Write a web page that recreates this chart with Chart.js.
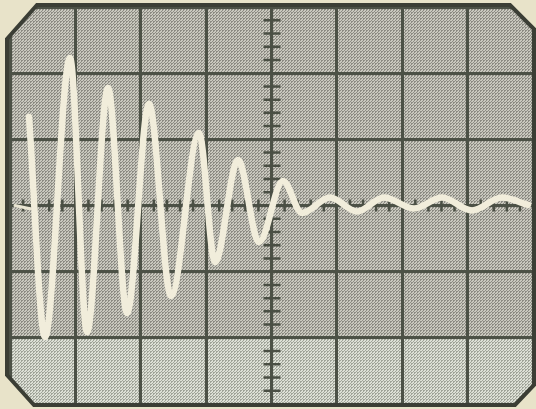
<!DOCTYPE html>
<html>
<head>
<meta charset="utf-8">
<script src="https://cdn.jsdelivr.net/npm/chart.js@4/dist/chart.umd.min.js"></script>
<style>
  html, body { margin: 0; padding: 0; background: #e8e3c9; }
  #c { display: block; }
</style>
</head>
<body>
<canvas id="c" width="536" height="409"></canvas>
<script>
// Trace extrema, in screen divisions (x: 0..8, y: -3..3)
const traceX = [0.291, 0.535, 0.918, 1.178, 1.499, 1.790, 2.126, 2.463, 2.891, 3.136, 3.488, 3.809,
                4.176, 4.467, 4.895, 5.308, 5.721, 6.180, 6.608, 7.067, 7.526, 7.924];
const traceY = [1.337, -1.987, 2.229, -1.912, 1.776, -1.625, 1.534, -1.368, 1.096, -0.854, 0.688, -0.552,
                0.370, -0.113, 0.120, -0.090, 0.120, -0.045, 0.120, -0.075, 0.120, 0.008];
// Short baseline stub before the sweep
const stubX = [0.076, 0.306];
const stubY = [0.0, -0.05];
// Graticule
const xMin = 0, xMax = 8, yMin = -3, yMax = 3;
const minorStep = 0.2;

function makePattern(dark, light) {
  const p = document.createElement('canvas');
  p.width = 3; p.height = 3;
  const g = p.getContext('2d');
  g.fillStyle = light; g.fillRect(0, 0, 3, 3);
  g.fillStyle = dark;
  g.fillRect(0, 0, 1, 1); g.fillRect(1, 0, 1, 1); g.fillRect(0, 1, 1, 1);
  g.fillRect(2, 2, 1, 1);
  return g.createPattern(p, 'repeat');
}

function screenPath(ctx, a) {
  const l = a.left - 3, r = a.right + 1, t = a.top - 2, b = a.bottom + 1;
  ctx.beginPath();
  ctx.moveTo(l + 30, t);
  ctx.lineTo(r - 24, t);
  ctx.lineTo(r, t + 24);
  ctx.lineTo(r, b - 20);
  ctx.lineTo(r - 19, b);
  ctx.lineTo(l + 27, b);
  ctx.lineTo(l, b - 30);
  ctx.lineTo(l, t + 34);
  ctx.closePath();
}

const screenPlugin = {
  id: 'screen',
  beforeDraw(chart) {
    const ctx = chart.ctx, a = chart.chartArea;
    const ys = chart.scales.y;
    ctx.save();
    ctx.fillStyle = '#e8e3c9';
    ctx.fillRect(0, 0, chart.width, chart.height);
    screenPath(ctx, a);
    ctx.fillStyle = makePattern('#8c8b83', '#c9c8be');
    ctx.fill();
    ctx.clip();
    const yb = ys.getPixelForValue(-2);
    ctx.fillStyle = makePattern('#a0a499', '#dde0d6');
    ctx.fillRect(a.left - 5, yb, a.right - a.left + 10, a.bottom - yb + 5);
    ctx.restore();
  },
  beforeDatasetsDraw(chart) {
    const ctx = chart.ctx, xs = chart.scales.x, ys = chart.scales.y;
    const cx = xs.getPixelForValue((xMin + xMax) / 2);
    const cy = ys.getPixelForValue((yMin + yMax) / 2);
    ctx.save();
    ctx.strokeStyle = '#4a4f44';
    ctx.lineWidth = 2.5;
    ctx.beginPath();
    for (let v = xMin + minorStep; v < xMax - 1e-6; v += minorStep) {
      const px = xs.getPixelForValue(v);
      ctx.moveTo(px, cy - 6); ctx.lineTo(px, cy + 6);
    }
    for (let v = yMin + minorStep; v < yMax - 1e-6; v += minorStep) {
      const py = ys.getPixelForValue(v);
      ctx.moveTo(cx - 8, py); ctx.lineTo(cx + 9, py);
    }
    ctx.stroke();
    ctx.restore();
  },
  afterDraw(chart) {
    const ctx = chart.ctx, a = chart.chartArea;
    ctx.save();
    ctx.beginPath();
    ctx.rect(0, 0, chart.width, chart.height);
    const l = a.left - 3, r = a.right + 1, t = a.top - 2, b = a.bottom + 1;
    ctx.moveTo(l + 30, t);
    ctx.lineTo(l, t + 34);
    ctx.lineTo(l, b - 30);
    ctx.lineTo(l + 27, b);
    ctx.lineTo(r - 19, b);
    ctx.lineTo(r, b - 20);
    ctx.lineTo(r, t + 24);
    ctx.lineTo(r - 24, t);
    ctx.closePath();
    ctx.fillStyle = '#e8e3c9';
    ctx.fill('evenodd');
    screenPath(ctx, a);
    ctx.strokeStyle = '#3b3e35';
    ctx.lineWidth = 4;
    ctx.stroke();
    ctx.restore();
  }
};

const gridOpts = { color: '#4c5146', lineWidth: 3, drawTicks: false };

new Chart(document.getElementById('c'), {
  type: 'scatter',
  data: {
    datasets: [
      {
        data: traceX.map((x, i) => ({ x: x, y: traceY[i] })),
        showLine: true,
        borderColor: '#f1eddb',
        borderWidth: 6.5,
        pointRadius: 0,
        cubicInterpolationMode: 'monotone',
        borderCapStyle: 'round',
        borderJoinStyle: 'round'
      },
      {
        data: stubX.map((x, i) => ({ x: x, y: stubY[i] })),
        showLine: true,
        borderColor: '#e9e5d2',
        borderWidth: 3,
        pointRadius: 0,
        borderCapStyle: 'round'
      }
    ]
  },
  options: {
    responsive: false,
    animation: false,
    devicePixelRatio: 1,
    layout: { padding: { left: 10, right: 3, top: 7, bottom: 5 } },
    plugins: { legend: { display: false }, tooltip: { enabled: false } },
    scales: {
      x: { type: 'linear', min: xMin, max: xMax, ticks: { display: false, stepSize: 1 }, grid: gridOpts, border: { display: false } },
      y: { type: 'linear', min: yMin, max: yMax, ticks: { display: false, stepSize: 1 }, grid: gridOpts, border: { display: false } }
    }
  },
  plugins: [screenPlugin]
});
</script>
</body>
</html>
